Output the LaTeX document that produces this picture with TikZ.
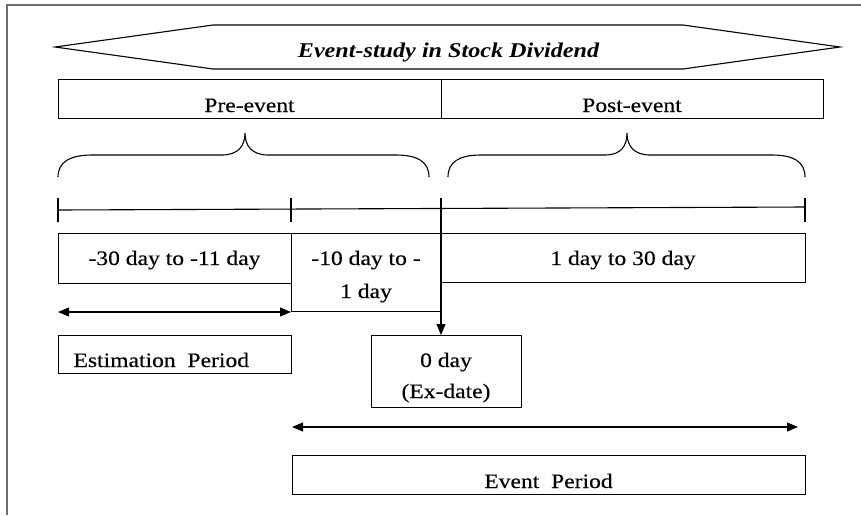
\documentclass[tikz,border=0pt]{standalone}
\usepackage{fontspec}
\setmainfont{Liberation Serif}[FakeStretch=1.15, UprightFeatures={FakeBold=0.35}]
\usetikzlibrary{arrows.meta}
\definecolor{framegray}{RGB}{110,110,110}
\begin{document}
\begin{tikzpicture}[x=1pt,y=-1pt,
  line width=1.1pt,
  box/.style={draw, rectangle, inner sep=0pt, anchor=north west},
  lbl/.style={anchor=base, inner sep=0pt, font=\fontsize{20.5}{33}\selectfont},
  arr/.style={-{Triangle[length=11pt,width=9pt]}},
  darr/.style={{Triangle[length=11pt,width=9pt]}-{Triangle[length=11pt,width=9pt]}}]
\useasboundingbox (0,0) rectangle (861,515);
% frame
\draw[framegray, line width=2pt] (7,515) -- (7,5) -- (861,5);
% banner
\draw (55,47) -- (213,25) -- (683,25) -- (840,47) -- (683,69) -- (213,69) -- cycle;
\node[anchor=base, inner sep=0pt, font=\fontsize{21}{25}\selectfont\bfseries\itshape] (title) at (448.5,57) {Event-study in Stock Dividend};
% pre / post
\node[box, minimum width=383, minimum height=39] (pre) at (58,79) {};
\node[box, minimum width=382, minimum height=39] (post) at (441,79) {};
\node[lbl] (pre-t) at (249.5,112) {Pre-event};
\node[lbl] (post-t) at (632,112) {Post-event};
% braces
\draw (58,177) .. controls (58,162) and (70,155) .. (92,155) -- (222,155)
  .. controls (238,155) and (245,146) .. (245,133)
  .. controls (245,146) and (252,155) .. (268,155) -- (396,155)
  .. controls (418,155) and (429,162) .. (429,177);
\draw (448,177) .. controls (448,162) and (459,155) .. (481,155) -- (605,155)
  .. controls (621,155) and (627,146) .. (627,133)
  .. controls (627,146) and (634,155) .. (650,155) -- (772,155)
  .. controls (794,155) and (805,162) .. (805,177);
% timeline
\coordinate (tl0) at (58,210);
\coordinate (tl3) at (805,207);
\draw (tl0) -- (tl3);
\draw (58,198) -- (58,222);
\draw (291,198) -- (291,222);
\draw (805,198) -- (805,222);
% row of periods
\node[box, minimum width=233, minimum height=50] (r1) at (58,233) {};
\node[box, minimum width=150, minimum height=78] (r2) at (291,233) {};
\node[box, minimum width=364, minimum height=49] (r3) at (441,233) {};
\node[lbl] (r1-t) at (174.5,265) {-30 day to -11 day};
\node[lbl] (r2-t1) at (366,265) {-10 day to -};
\node[lbl] (r2-t2) at (366,298) {1 day};
\node[lbl] (r3-t) at (623,265) {1 day to 30 day};
% estimation
\coordinate (ea1) at (58,312);
\coordinate (ea2) at (291,312);
\draw[darr] (ea1) -- (ea2);
\node[box, minimum width=233, minimum height=38] (est) at (58,335) {};
\node[lbl, anchor=base west] (est-t) at (73,367) {Estimation\ \ Period};
% ex-date
\node[box, minimum width=150, minimum height=72] (zero) at (371,335) {};
\node[lbl] (zero-t1) at (446,367) {0 day};
\node[lbl] (zero-t2) at (446,398) {(Ex-date)};
\coordinate (t2) at (441,198);
\draw[arr] (t2) -- (t2 |- zero.north);
% event period
\coordinate (pa1) at (292,427);
\coordinate (pa2) at (798,427);
\draw[darr] (pa1) -- (pa2);
\node[box, minimum width=513, minimum height=39] (evp) at (292,455) {};
\node[lbl] (evp-t) at (548.5,488) {Event\ \ Period};
\end{tikzpicture}
\end{document}
